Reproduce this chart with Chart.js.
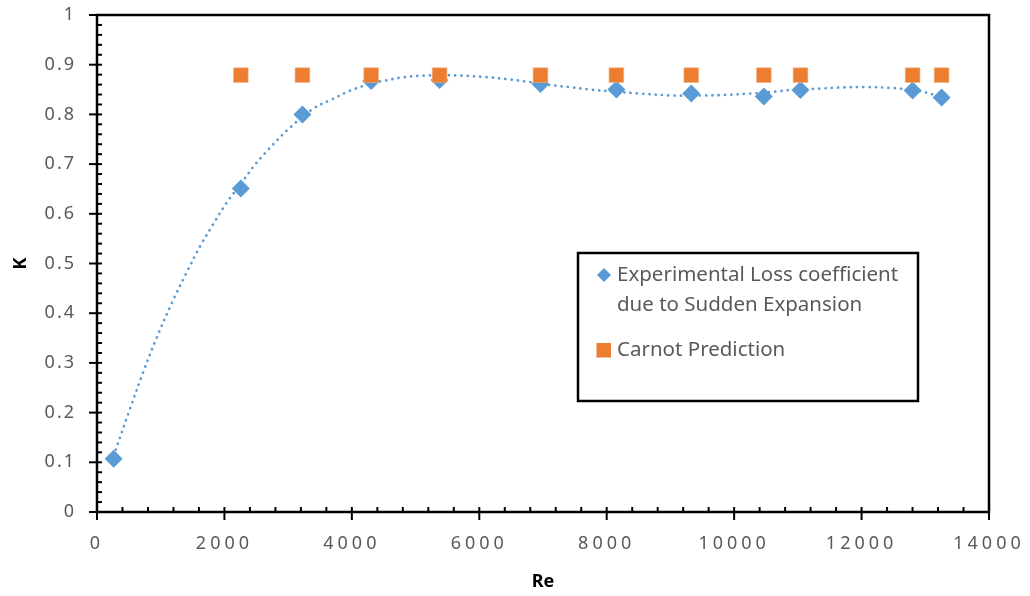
<!DOCTYPE html>
<html>
<head>
<meta charset="utf-8">
<script src="https://cdn.jsdelivr.net/npm/chart.js@4.4.1/dist/chart.umd.min.js"></script>
<style>
  html, body { margin: 0; padding: 0; background: #ffffff; }
  #wrap { position: relative; width: 1030px; height: 596px; }
</style>
</head>
<body>
<div id="wrap"><canvas id="c" width="1030" height="596"></canvas></div>
<script>
// ---- data ----
const expRe = [261, 2257, 3224, 4303, 5377, 6960, 8152, 9327, 10466, 11041, 12801, 13256];
const expK  = [0.107, 0.651, 0.800, 0.867, 0.869, 0.861, 0.850, 0.842, 0.836, 0.849, 0.848, 0.834];

const carnotRe = [2257, 3224, 4303, 5377, 6960, 8152, 9327, 10466, 11041, 12801, 13256];
const carnotK  = [0.879, 0.879, 0.879, 0.879, 0.879, 0.879, 0.879, 0.879, 0.879, 0.879, 0.879];

// dotted trendline
const trendRe = [261, 511, 715, 934, 1176, 1395, 1624, 1828, 2043, 2257, 2461, 2659, 3000, 3396, 3684, 3960, 4300, 4520, 4822, 5120, 5424, 5722, 6114, 6428, 6741, 7106, 7420, 7733, 8100, 8517, 9039, 9509, 9823, 10241, 10660, 10868, 11339, 11652, 12071, 12489, 12800, 13011, 13256];
const trendK  = [0.113, 0.205, 0.278, 0.350, 0.421, 0.479, 0.536, 0.580, 0.624, 0.660, 0.696, 0.725, 0.770, 0.812, 0.830, 0.847, 0.862, 0.868, 0.875, 0.878, 0.879, 0.878, 0.875, 0.871, 0.866, 0.859, 0.855, 0.850, 0.846, 0.842, 0.838, 0.838, 0.839, 0.842, 0.846, 0.849, 0.852, 0.854, 0.855, 0.853, 0.849, 0.844, 0.835];

const xTickLabels = ['0', '2000', '4000', '6000', '8000', '10000', '12000', '14000'];
const yTickLabels = ['0', '0.1', '0.2', '0.3', '0.4', '0.5', '0.6', '0.7', '0.8', '0.9', '1'];

const legendLabels = ['Experimental Loss coefficient', 'due to Sudden Expansion', 'Carnot Prediction'];
const xTitle = 'Re';
const yTitle = 'K';

const BLUE = '#5B9BD5';
const ORANGE = '#ED7D31';
const LABEL = '#595959';
const FONT = "'Noto Sans', 'Open Sans', sans-serif";

const toPts = (xs, ys) => xs.map((x, i) => ({ x: x, y: ys[i] }));

function wrapSpacing(scale, sp) {
  if (scale._wrapped) return scale.drawLabels;
  const orig = Object.getPrototypeOf(scale).drawLabels;
  scale._wrapped = true;
  return function (ca) {
    const c = this.ctx;
    c.save();
    c.letterSpacing = sp;
    orig.call(this, ca);
    c.restore();
  };
}

function zeroPad(s) {
  s.paddingTop = 0; s.paddingBottom = 0; s.paddingLeft = 0; s.paddingRight = 0;
}

// axis frame + Excel-style minor/major ticks, and the boxed legend
const framePlugin = {
  id: 'frame',
  beforeDraw(chart) {
    chart.scales.x.drawLabels = wrapSpacing(chart.scales.x, '4px');
    chart.scales.y.drawLabels = wrapSpacing(chart.scales.y, '2px');
  },
  beforeDatasetsDraw(chart) {
    const { ctx, chartArea: a, scales: { x, y } } = chart;
    ctx.save();
    ctx.strokeStyle = '#000';
    ctx.lineWidth = 2.5;
    ctx.lineCap = 'butt';
    ctx.strokeRect(a.left, a.top, a.right - a.left, a.bottom - a.top);
    ctx.lineWidth = 2;
    for (let v = 0; v <= 14000; v += 400) {
      const px = x.getPixelForValue(v);
      const major = v % 2000 === 0;
      ctx.beginPath();
      ctx.moveTo(px, a.bottom - 5);
      ctx.lineTo(px, a.bottom + (major ? 8 : 0));
      ctx.stroke();
    }
    for (let i = 0; i <= 50; i++) {
      const v = i / 50;
      const py = y.getPixelForValue(v);
      const major = i % 5 === 0;
      ctx.beginPath();
      ctx.moveTo(a.left + 5, py);
      ctx.lineTo(a.left - (major ? 8 : 0), py);
      ctx.stroke();
    }
    ctx.restore();
  },
  afterDraw(chart) {
    const ctx = chart.ctx;
    ctx.save();
    ctx.letterSpacing = '0px';
    ctx.strokeStyle = '#000';
    ctx.lineWidth = 2.5;
    ctx.fillStyle = '#fff';
    ctx.fillRect(578, 253, 340, 148);
    ctx.strokeRect(578, 253, 340, 148);
    ctx.fillStyle = BLUE;
    ctx.beginPath();
    ctx.moveTo(604, 268); ctx.lineTo(611, 275); ctx.lineTo(604, 282); ctx.lineTo(597, 275);
    ctx.closePath(); ctx.fill();
    ctx.fillStyle = ORANGE;
    ctx.fillRect(596.5, 343, 14.5, 14.5);
    ctx.fillStyle = LABEL;
    ctx.font = "20.5px " + FONT;
    ctx.textBaseline = 'middle';
    ctx.textAlign = 'left';
    ctx.fillText(legendLabels[0], 617, 275);
    ctx.fillText(legendLabels[1], 617, 305);
    ctx.fillText(legendLabels[2], 617, 350);
    ctx.restore();
  }
};

new Chart(document.getElementById('c'), {
  type: 'scatter',
  data: {
    datasets: [
      {
        label: 'Trend',
        data: toPts(trendRe, trendK),
        showLine: true,
        borderColor: BLUE,
        borderWidth: 2.7,
        borderDash: [0.1, 6.2],
        borderCapStyle: 'round',
        tension: 0.35,
        pointRadius: 0,
        order: 3
      },
      {
        label: legendLabels[2],
        data: toPts(carnotRe, carnotK),
        pointStyle: 'rect',
        pointRadius: 10.4,
        backgroundColor: ORANGE,
        borderColor: '#F4B183',
        borderWidth: 0.6,
        order: 1
      },
      {
        label: legendLabels[0] + ' ' + legendLabels[1],
        data: toPts(expRe, expK),
        pointStyle: 'rectRot',
        pointRadius: 9,
        backgroundColor: BLUE,
        borderColor: BLUE,
        borderWidth: 0,
        order: 2
      }
    ]
  },
  options: {
    responsive: false,
    animation: false,
    events: [],
    layout: { padding: { left: 0, top: 15, right: 41, bottom: 0 } },
    plugins: { legend: { display: false }, tooltip: { enabled: false } },
    scales: {
      x: {
        type: 'linear',
        min: 0, max: 14000,
        afterFit: (s) => { s.height = 84; zeroPad(s); },
        afterBuildTicks: (s) => { s.ticks = xTickLabels.map(t => ({ value: Number(t) })); },
        grid: { display: false, drawTicks: false },
        border: { display: false },
        ticks: {
          callback: (v, i) => xTickLabels[i],
          color: LABEL,
          font: { family: FONT, size: 18 },
          padding: 21,
          maxRotation: 0,
          autoSkip: false
        },
        title: {
          display: true, text: xTitle, color: '#000',
          font: { family: FONT, size: 18, weight: 'bold' },
          padding: { top: 4, bottom: 3 }
        }
      },
      y: {
        type: 'linear',
        min: 0, max: 1,
        afterFit: (s) => { s.width = 97; zeroPad(s); },
        afterBuildTicks: (s) => { s.ticks = yTickLabels.map(t => ({ value: Number(t) })); },
        grid: { display: false, drawTicks: false },
        border: { display: false },
        ticks: {
          callback: (v, i) => yTickLabels[i],
          color: LABEL,
          font: { family: FONT, size: 18 },
          padding: 21,
          autoSkip: false
        },
        title: {
          display: true, text: yTitle, color: '#000',
          font: { family: FONT, size: 18, weight: 'bold' },
          padding: { top: 10, bottom: 0 }
        }
      }
    }
  },
  plugins: [framePlugin]
});
</script>
</body>
</html>
